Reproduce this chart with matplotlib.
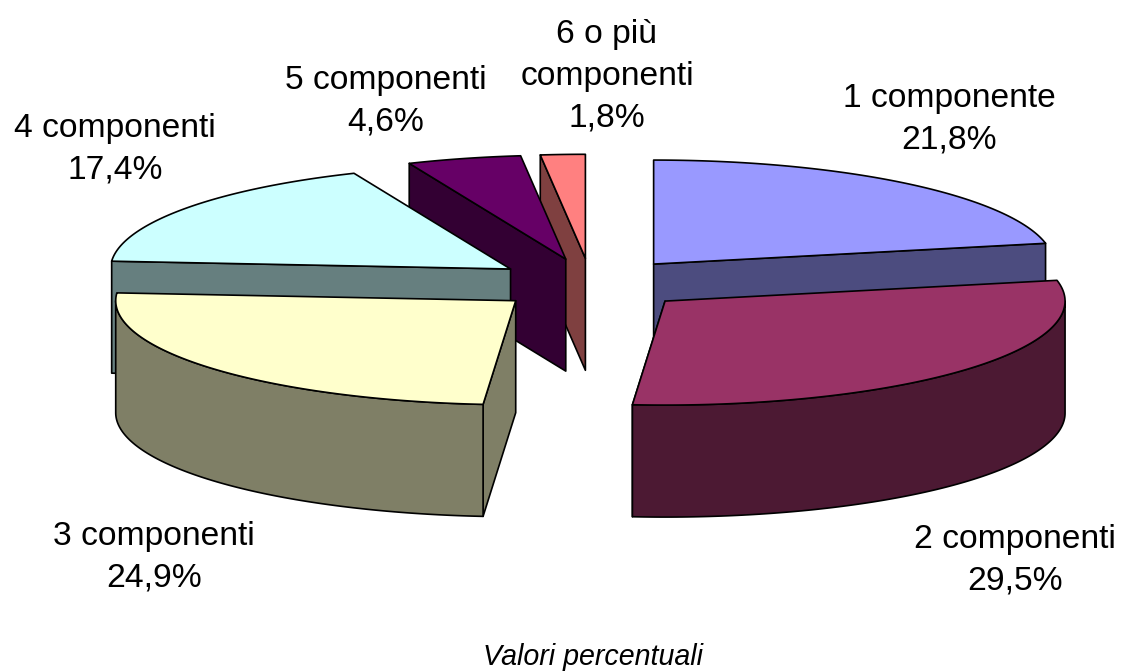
import numpy as np
import matplotlib
matplotlib.use("Agg")
import matplotlib.pyplot as plt
from matplotlib.patches import Polygon

categories = ["1 componente", "2 componenti", "3 componenti", "4 componenti", "5 componenti", "6 o più\ncomponenti"]
values = [21.8, 29.5, 24.9, 17.4, 4.6, 1.8]
top_colors = ["#9999FF", "#993366", "#FFFFCC", "#CCFFFF", "#660066", "#FF8080"]
side_colors = ["#4C4C7F", "#4C1933", "#7F7F66", "#667F7F", "#330033", "#7F4040"]
label_centers = [(949, 119), (1015, 560), (154, 557), (115, 149.5), (386, 101), (607, 76)]
caption = "Valori percentuali"

plt.rcParams["font.family"] = ["Liberation Sans", "DejaVu Sans"]
fig = plt.figure(figsize=(11.22, 6.71), dpi=100)
ax = fig.add_axes([0, 0, 1, 1])
ax.set_xlim(0, 1122)
ax.set_ylim(671, 0)
ax.axis("off")

CX, CY = 591, 284
A, B = 400, 104
EXPLODE = 99
DEPTH = 112
EDGE = dict(edgecolor="black", linewidth=1.2, joinstyle="round")

fr = np.array(values) / sum(values)
ends = np.cumsum(fr) * 2 * np.pi
starts = ends - fr * 2 * np.pi


def rim(ax0, ay0, t):
    return np.column_stack([ax0 + A * np.sin(t), ay0 - B * np.cos(t)])


def draw_slice(i):
    t0, t1 = starts[i], ends[i]
    mid = (t0 + t1) / 2
    x0 = CX + EXPLODE * np.sin(mid)
    y0 = CY - EXPLODE * B / A * np.cos(mid)
    apex = np.array([x0, y0])
    down = np.array([0, DEPTH])
    p0 = rim(x0, y0, np.array([t0]))[0]
    p1 = rim(x0, y0, np.array([t1]))[0]
    walls = []
    if np.sin(t1) > 0 and np.cos(t1) > 0:
        walls.append((apex, p1))
    if np.sin(t0) < 0 and np.cos(t0) > 0:
        walls.append((p0, apex))
    if np.sin(t1) < 0 and np.cos(t1) < 0:
        walls.append((p1, apex))
    if np.sin(t0) > 0 and np.cos(t0) < 0:
        walls.append((apex, p0))
    if i == 2:
        walls.append((apex, p0))
    for a, b in walls:
        ax.add_patch(Polygon([a, b, b + down, a + down], facecolor=side_colors[i], **EDGE))
    lo, hi = max(t0, np.pi / 2), min(t1, 3 * np.pi / 2)
    if hi > lo:
        r = rim(x0, y0, np.linspace(lo, hi, 120))
        ax.add_patch(Polygon(np.vstack([r, (r + down)[::-1]]), facecolor=side_colors[i], **EDGE))
    arc = rim(x0, y0, np.linspace(t0, t1, 200))
    ax.add_patch(Polygon(np.vstack([apex, arc]), facecolor=top_colors[i], **EDGE))


for i in [0, 1, 5, 4, 3, 2]:
    draw_slice(i)

for cat, v, (x, y) in zip(categories, values, label_centers):
    ax.text(x, y, f"{cat}\n{v:.1f}%".replace(".", ","), ha="center", va="center",
            fontsize=24.2, linespacing=1.44, color="black")
ax.text(593, 657, caption, ha="center", va="center", fontsize=20.6, style="italic", color="black")

fig.savefig("out.png", dpi=100)
